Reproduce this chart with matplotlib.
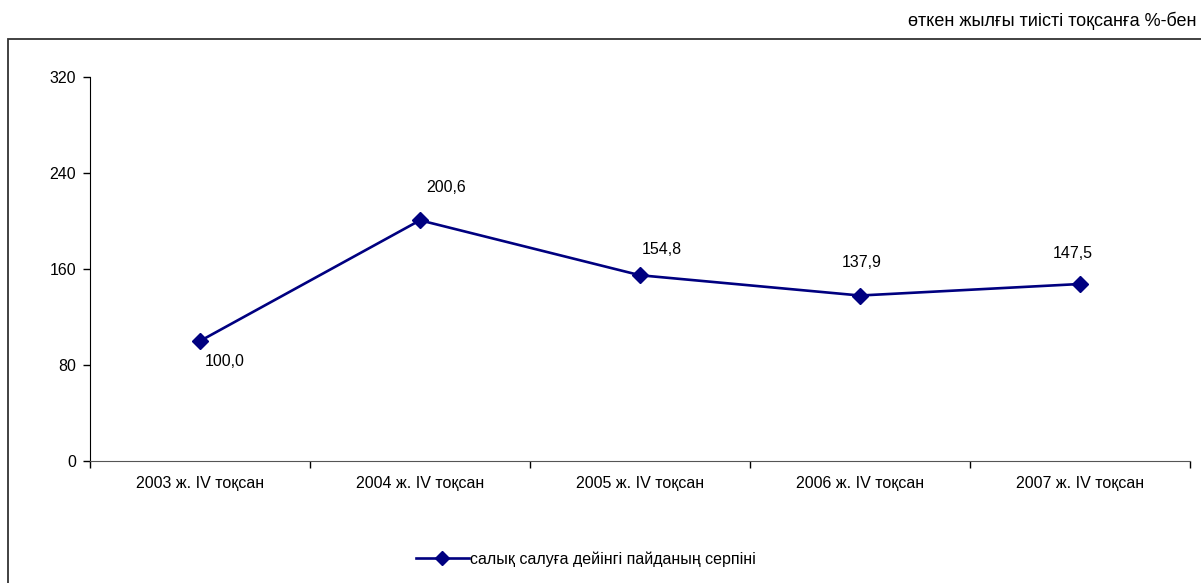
import matplotlib
matplotlib.use("Agg")
import matplotlib.pyplot as plt
from matplotlib.patches import Rectangle

plt.rcParams['font.family'] = ['Liberation Sans', 'DejaVu Sans']

categories = ["2003 ж. IV тоқсан", "2004 ж. IV тоқсан", "2005 ж. IV тоқсан",
              "2006 ж. IV тоқсан", "2007 ж. IV тоқсан"]
values = [100.0, 200.6, 154.8, 137.9, 147.5]
value_labels = ["100,0", "200,6", "154,8", "137,9", "147,5"]
series_name = "салық салуға дейінгі пайданың серпіні"
unit_note = "өткен жылғы тиісті тоқсанға %-бен"
yticks = [0, 80, 160, 240, 320]

W, H = 1201, 583
FS = 11.5
fig = plt.figure(figsize=(W / 100, H / 100), dpi=100)

# outer chart frame
fig.patches.append(Rectangle((8 / W, -0.05), 1.2, 1 - 39 / H + 0.05,
                             transform=fig.transFigure, fill=False,
                             edgecolor='#333333', linewidth=1.3))

ax = fig.add_axes([90 / W, 1 - 461 / H, (1190 - 90) / W, (461 - 77) / H])
x = list(range(len(values)))
line, = ax.plot(x, values, color='#000080', linewidth=1.9, marker='D',
                markersize=8, label=series_name)

# data labels (offsets in pixels)
offsets = [(25, -21), (26, 33), (22, 26), (2, 33), (-7, 30)]
for xi, v, lab, (dx, dy) in zip(x, values, value_labels, offsets):
    ax.annotate(lab, (xi, v), xytext=(dx * 0.72, dy * 0.72),
                textcoords='offset points', ha='center', va='center',
                fontsize=FS, color='black')

ax.set_xlim(-0.5, len(values) - 0.5)
ax.set_ylim(0, 320)
ax.set_yticks(yticks)
ax.set_yticklabels([str(t) for t in yticks], fontsize=FS)
ax.set_xticks([i - 0.5 for i in range(len(values) + 1)])
ax.set_xticklabels([])
ax.set_xticks(x, minor=True)
ax.set_xticklabels(categories, minor=True, fontsize=FS)
ax.tick_params(axis='x', which='major', direction='out', length=5, width=1)
ax.tick_params(axis='x', which='minor', length=0, pad=11)
ax.tick_params(axis='y', direction='out', length=5, width=1, pad=5)
for s in ['top', 'right']:
    ax.spines[s].set_visible(False)
ax.spines['left'].set_color('black')
ax.spines['bottom'].set_color('#555555')

fig.text(1197 / W, 1 - 21 / H, unit_note, ha='right', va='center', fontsize=13)

fig.legend(handles=[line], loc='center', bbox_to_anchor=(586 / W, 1 - 559 / H),
           frameon=False, fontsize=FS, handlelength=3.3, handletextpad=0.1,
           markerscale=0.9, borderpad=0, borderaxespad=0)

fig.savefig("out.png", dpi=100)
